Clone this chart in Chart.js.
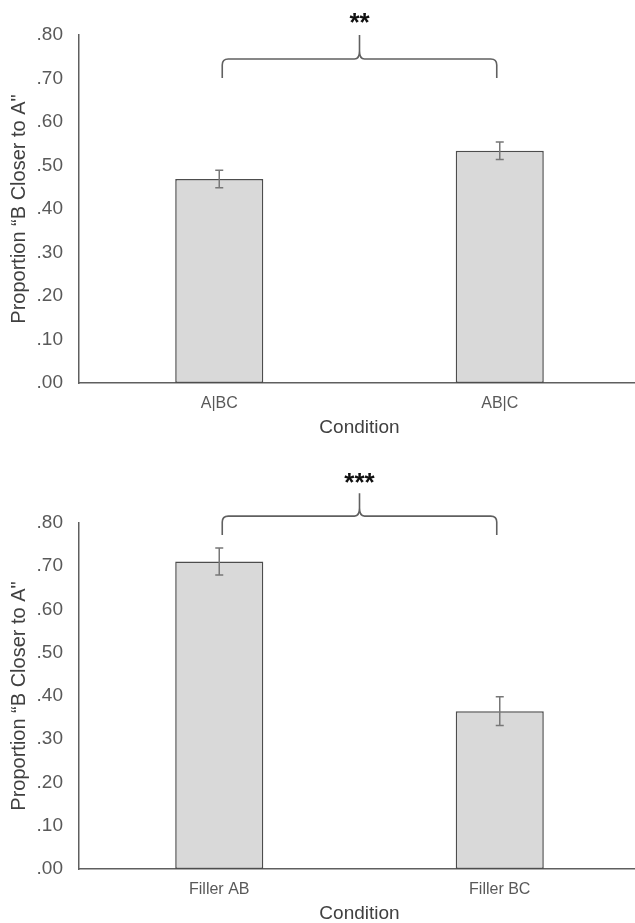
<!DOCTYPE html>
<html>
<head>
<meta charset="utf-8">
<script src="https://cdn.jsdelivr.net/npm/chart.js@4/dist/chart.umd.min.js"></script>
<style>
  html, body { margin: 0; padding: 0; background: #fff; overflow: hidden; width: 635px; height: 923px; }
  canvas { position: absolute; left: 0; }
  #c1 { top: 0; }
  #c2 { top: 445px; }
</style>
</head>
<body>
<canvas id="c1" width="650" height="445"></canvas>
<canvas id="c2" width="650" height="486"></canvas>
<script>
// ---- data ----
const categoriesTop = ['A|BC', 'AB|C'];
const valuesTop = [0.469, 0.534];
const errorsTop = [0.020, 0.020];

const categoriesBottom = ['Filler AB', 'Filler BC'];
const valuesBottom = [0.711, 0.365];
const errorsBottom = [0.031, 0.033];

const yMin = 0;
const yMax = 0.8;
const yStep = 0.1;

const xTitle = 'Condition';
const yTitle = 'Proportion \u201CB Closer to A"';

// significance brackets: [line level, end level, peak level, label level]
const bracketTop = [0.745, 0.701, 0.800, 0.843];
const bracketBottom = [0.816, 0.772, 0.869, 0.908];
const starsTop = '**';
const starsBottom = '***';

// ---- plugins ----
const errorBarPlugin = {
  id: 'errorBars',
  afterDatasetsDraw(chart, args, opts) {
    const ctx = chart.ctx;
    const meta = chart.getDatasetMeta(0);
    const ys = chart.scales.y;
    const vals = chart.data.datasets[0].data;
    ctx.save();
    ctx.strokeStyle = '#777777';
    ctx.lineWidth = 1.5;
    meta.data.forEach((bar, i) => {
      const x = bar.x;
      const yTop = ys.getPixelForValue(vals[i] + opts.errors[i]);
      const yBot = ys.getPixelForValue(vals[i] - opts.errors[i]);
      ctx.beginPath();
      ctx.moveTo(x, yTop); ctx.lineTo(x, yBot);
      ctx.moveTo(x - 4, yTop); ctx.lineTo(x + 4, yTop);
      ctx.moveTo(x - 4, yBot); ctx.lineTo(x + 4, yBot);
      ctx.stroke();
    });
    ctx.restore();
  }
};

const bracketPlugin = {
  id: 'bracket',
  afterDraw(chart, args, opts) {
    const ctx = chart.ctx;
    const meta = chart.getDatasetMeta(0);
    const ys = chart.scales.y;
    const [lineV, endV, peakV, labelV] = opts.levels;
    const x1 = meta.data[0].x + 3;
    const x2 = meta.data[1].x - 3;
    const c = (meta.data[0].x + meta.data[1].x) / 2;
    const yL = ys.getPixelForValue(lineV);
    const yE = ys.getPixelForValue(endV);
    const yP = ys.getPixelForValue(peakV);
    const yS = ys.getPixelForValue(labelV);
    ctx.save();
    ctx.strokeStyle = '#606060';
    ctx.lineWidth = 1.6;
    ctx.beginPath();
    ctx.moveTo(x1, yE);
    ctx.lineTo(x1, yL + 6);
    ctx.quadraticCurveTo(x1, yL, x1 + 6, yL);
    ctx.lineTo(c - 5, yL);
    ctx.quadraticCurveTo(c, yL, c, yL - 8);
    ctx.lineTo(c, yP);
    ctx.moveTo(c, yL - 8);
    ctx.quadraticCurveTo(c, yL, c + 5, yL);
    ctx.lineTo(x2 - 6, yL);
    ctx.quadraticCurveTo(x2, yL, x2, yL + 6);
    ctx.lineTo(x2, yE);
    ctx.stroke();
    ctx.fillStyle = '#111';
    ctx.font = 'bold 26px "Liberation Sans", Arial, sans-serif';
    ctx.textAlign = 'center';
    ctx.textBaseline = 'alphabetic';
    ctx.fillText(opts.label, c, yS + 0.57 * 26);
    ctx.restore();
  }
};

function makeChart(id, cats, vals, errs, bracket, stars, topPad) {
  return new Chart(document.getElementById(id), {
    type: 'bar',
    data: {
      labels: cats,
      datasets: [{
        data: vals,
        backgroundColor: '#d9d9d9',
        borderColor: '#4d4d4d',
        borderWidth: 1.5,
        borderSkipped: false,
        barPercentage: 0.314,
        categoryPercentage: 1.0
      }]
    },
    options: {
      responsive: false,
      animation: false,
      devicePixelRatio: 1,
      layout: { padding: { top: topPad, right: 10, left: 0, bottom: 0 } },
      plugins: {
        legend: { display: false },
        tooltip: { enabled: false },
        errorBars: { errors: errs },
        bracket: { levels: bracket, label: stars }
      },
      scales: {
        x: {
          grid: { display: false, drawTicks: false },
          border: { display: true, color: '#5f5f5f', width: 1.5 },
          ticks: {
            color: '#595959',
            padding: 11,
            font: { family: '"Liberation Sans", Arial, sans-serif', size: 16 }
          },
          title: {
            display: true,
            text: xTitle,
            color: '#404040',
            padding: { top: 0, bottom: 6 },
            font: { family: '"Liberation Sans", Arial, sans-serif', size: 19 }
          },
          afterFit(s) { s.height = 62; }
        },
        y: {
          min: yMin,
          max: yMax,
          grid: { display: false, drawTicks: false },
          border: { display: true, color: '#5f5f5f', width: 1.5 },
          ticks: {
            stepSize: yStep,
            color: '#595959',
            padding: 16,
            font: { family: '"Liberation Sans", Arial, sans-serif', size: 19 },
            callback: (v) => Number(v).toFixed(2).replace(/^0/, '')
          },
          title: {
            display: true,
            text: yTitle,
            color: '#404040',
            padding: { top: 7, bottom: 0 },
            font: { family: '"Liberation Sans", Arial, sans-serif', size: 20 }
          },
          afterFit(s) { s.width = 79; }
        }
      }
    },
    plugins: [errorBarPlugin, bracketPlugin]
  });
}

makeChart('c1', categoriesTop, valuesTop, errorsTop, bracketTop, starsTop, 35);
makeChart('c2', categoriesBottom, valuesBottom, errorsBottom, bracketBottom, starsBottom, 78);
</script>
</body>
</html>
